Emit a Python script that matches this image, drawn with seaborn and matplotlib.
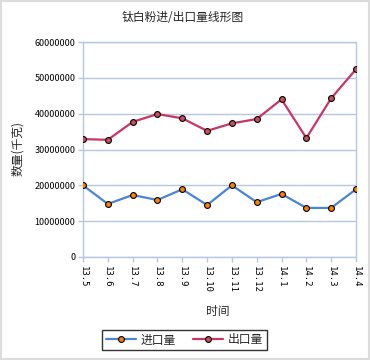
import matplotlib
matplotlib.use("Agg")
import matplotlib.pyplot as plt
import seaborn as sns
import pandas as pd
import numpy as np
from matplotlib.lines import Line2D
from matplotlib.patches import Rectangle

months = ["13.5", "13.6", "13.7", "13.8", "13.9", "13.10", "13.11", "13.12",
          "14.1", "14.2", "14.3", "14.4"]
import_vals = [20000000, 14800000, 17300000, 15900000, 18900000, 14500000,
               20000000, 15300000, 17600000, 13700000, 13700000, 18900000]
export_vals = [32900000, 32700000, 37700000, 39900000, 38700000, 35200000,
               37300000, 38500000, 44000000, 33200000, 44300000, 52400000]
y_ticks = [0, 10000000, 20000000, 30000000, 40000000, 50000000, 60000000]
series_names = ["进口量", "出口量"]

sns.set_theme(style="white")
plt.rcParams["font.family"] = ["Noto Sans CJK SC", "DejaVu Sans"]

grid_c = "#b4c8e0"
blue = "#4a84d4"
red = "#cc3366"
blue_face = "#ff7f00"
red_face = "#c8505a"

fig = plt.figure(figsize=(3.7, 3.6), dpi=100)
fig.patch.set_facecolor("white")
ax = fig.add_axes([83/370, 1-257/360, (356-83)/370, (257-42)/360])

df = pd.DataFrame({"idx": np.arange(len(months)), "month": months,
                   series_names[0]: import_vals, series_names[1]: export_vals})

sns.lineplot(data=df, x="idx", y=series_names[0], ax=ax, color=blue, lw=1.6,
             marker="o", markersize=4.2, markerfacecolor=blue_face,
             markeredgecolor="black", markeredgewidth=0.8, zorder=3)
sns.lineplot(data=df, x="idx", y=series_names[1], ax=ax, color=red, lw=1.6,
             marker="o", markersize=4.2, markerfacecolor=red_face,
             markeredgecolor="black", markeredgewidth=0.8, zorder=3)

ax.set_xlim(0, len(months) - 1)
ax.set_ylim(0, 60000000)
ax.set_yticks(y_ticks)
ax.set_yticklabels([str(v) for v in y_ticks], fontsize=6.5, color="black")
ax.set_xticks(df["idx"])
ax.set_xticklabels(months, fontsize=6.5, color="black",
                   family=["DejaVu Sans Mono"])
for lbl in ax.get_xticklabels():
    lbl.set_rotation(270)
ax.tick_params(axis="both", which="both", length=3.5, width=1, color=grid_c,
               direction="out", pad=2, bottom=True, left=True)
ax.tick_params(axis="x", pad=3)
ax.yaxis.grid(True, color=grid_c, lw=1)
ax.xaxis.grid(False)
ax.set_axisbelow(True)
for s in ax.spines.values():
    s.set_color(grid_c)
    s.set_linewidth(1)
ax.set_xlabel("")
ax.set_ylabel("")

fig.text(183/370, 1-17.5/360, "钛白粉进/出口量线形图", ha="center", va="center", fontsize=8.5)
fig.text(18/370, 1-148/360, "数量(千克)", ha="center", va="center", rotation=90, fontsize=8.5)
fig.text(218/370, 1-311/360, "时间", ha="center", va="center", fontsize=8.5)

handles = [
    Line2D([0], [0], color=blue, lw=1.6, marker="o", markersize=4.2,
           markerfacecolor=blue_face, markeredgecolor="black", markeredgewidth=0.8),
    Line2D([0], [0], color=red, lw=1.6, marker="o", markersize=4.2,
           markerfacecolor=red_face, markeredgecolor="black", markeredgewidth=0.8),
]
leg = fig.legend(handles, series_names, loc="center", bbox_to_anchor=(184.5/370, 1-340/360),
                 ncol=2, fontsize=8.5, frameon=True, fancybox=False, handlelength=2.6,
                 handletextpad=0.4, columnspacing=1.4, borderpad=0.3)
leg.get_frame().set_edgecolor("black")
leg.get_frame().set_linewidth(1)

fig.patches.append(Rectangle((0, 0), 1, 1, transform=fig.transFigure, fill=False,
                             edgecolor="#dcdcdc", lw=3, zorder=10))

fig.savefig("out.png", dpi=100)
